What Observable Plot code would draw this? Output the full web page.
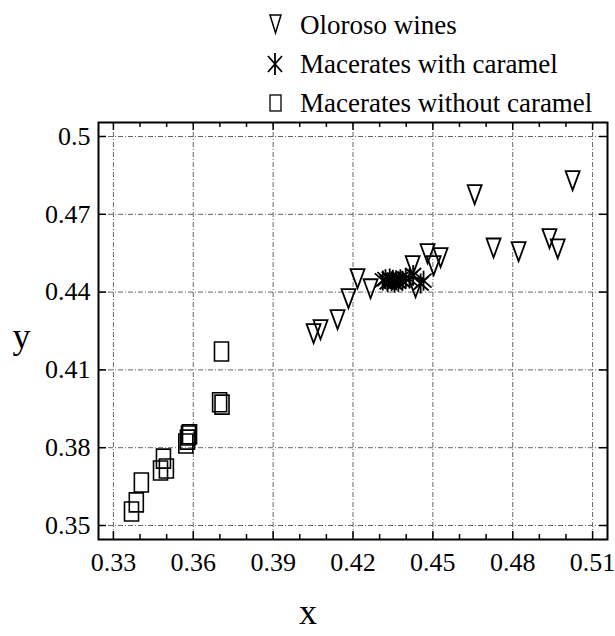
<!DOCTYPE html>
<html>
<head>
<meta charset="utf-8">
<script src="https://cdn.jsdelivr.net/npm/d3@7"></script>
<script src="https://cdn.jsdelivr.net/npm/@observablehq/plot@0.6"></script>
<style>
  body { margin: 0; background: #fff; }
  #wrap { position: relative; width: 615px; height: 636px; font-family: "Liberation Serif", "DejaVu Serif", serif; }
  #legend { position: absolute; left: 0; top: 0; width: 615px; height: 120px; pointer-events: none; }
  .row { position: absolute; left: 262px; height: 30px; display: flex; align-items: center; font-size: 27px; color: #000; white-space: nowrap; }
  .row svg { width: 28px; height: 28px; margin-right: 10px; overflow: visible; }
</style>
</head>
<body>
<div id="wrap">
  <div id="chart"></div>
  <div id="legend"></div>
</div>
<script>
// ---- data ----
const seriesNames = ["Oloroso wines", "Macerates with caramel", "Macerates without caramel"];

const olorosoX = [0.4052, 0.4078, 0.4142, 0.4183, 0.4217, 0.4266, 0.4424, 0.4435, 0.4480, 0.4503, 0.4529, 0.4657, 0.4728, 0.4822, 0.4938, 0.4969, 0.5025];
const olorosoY = [0.4240, 0.4255, 0.4294, 0.4375, 0.4452, 0.4413, 0.4502, 0.4417, 0.4548, 0.4502, 0.4533, 0.4776, 0.4570, 0.4556, 0.4606, 0.4567, 0.4830];

const caramelX = [0.4312, 0.4322, 0.4330, 0.4338, 0.4345, 0.4350, 0.4356, 0.4362, 0.4370, 0.4378, 0.4386, 0.4398, 0.4412, 0.4426, 0.4454, 0.4465];
const caramelY = [0.4445, 0.4450, 0.4438, 0.4452, 0.4442, 0.4448, 0.4436, 0.4446, 0.4440, 0.4450, 0.4444, 0.4452, 0.4452, 0.4466, 0.4433, 0.4444];

const noCaramelX = [0.3368, 0.3386, 0.3405, 0.3477, 0.3488, 0.3499, 0.3572, 0.3578, 0.3582, 0.3586, 0.3699, 0.3708, 0.3706];
const noCaramelY = [0.3554, 0.3589, 0.3666, 0.3712, 0.3758, 0.3720, 0.3816, 0.3831, 0.3847, 0.3852, 0.3975, 0.3966, 0.4171];

const xTicks = [0.33, 0.36, 0.39, 0.42, 0.45, 0.48, 0.51];
const xMinorTicks = [0.34, 0.35, 0.37, 0.38, 0.40, 0.41, 0.43, 0.44, 0.46, 0.47, 0.49, 0.50];
const yTicks = [0.35, 0.38, 0.41, 0.44, 0.47, 0.5];
const xDomain = [0.3244, 0.5156];
const yDomain = [0.3446, 0.5054];

// ---- layout ----
const W = 615, H = 636;
const mL = 98, mR = 8, mT = 122, mB = 97;
const plotW = W - mL - mR, plotH = H - mT - mB;

// ---- custom symbols ----
const triDown = { draw(ctx) { ctx.moveTo(-7, -9.5); ctx.lineTo(7, -9.5); ctx.lineTo(0, 9.5); ctx.closePath(); } };
const rectSym = { draw(ctx) { ctx.moveTo(-7, -9.5); ctx.lineTo(7, -9.5); ctx.lineTo(7, 9.5); ctx.lineTo(-7, 9.5); ctx.closePath(); } };
const asterisk = { draw(ctx) {
  ctx.moveTo(0, -10); ctx.lineTo(0, 10);
  ctx.moveTo(-8, -7); ctx.lineTo(8, 7);
  ctx.moveTo(-8, 7); ctx.lineTo(8, -7);
} };

const zip = (xs, ys) => xs.map((x, i) => ({x, y: ys[i]}));
const oloroso = zip(olorosoX, olorosoY);
const caramel = zip(caramelX, caramelY);
const noCaramel = zip(noCaramelX, noCaramelY);

const fmt = d => String(+d.toFixed(2));
const gridStyle = {stroke: "#666", strokeOpacity: 1, strokeWidth: 1, strokeDasharray: "5,2,1,2"};

const chart = Plot.plot({
  width: W, height: H,
  marginLeft: mL, marginRight: mR, marginTop: mT, marginBottom: mB,
  x: {domain: xDomain, label: null},
  y: {domain: yDomain, label: null},
  style: {fontFamily: "'Liberation Serif', 'DejaVu Serif', serif", fontSize: "26px", color: "#000", background: "#fff", overflow: "visible"},
  marks: [
    Plot.gridX(xTicks, gridStyle),
    Plot.gridY(yTicks, gridStyle),
    Plot.axisX(xTicks, {tickSize: 0, tickPadding: 13, tickFormat: fmt, fontSize: 26}),
    Plot.axisY(yTicks, {tickSize: 0, tickPadding: 8, tickFormat: fmt, fontSize: 26}),
    // inward ticks
    Plot.tickX(xTicks, {x: d => d, insetTop: plotH - 8, stroke: "#000", strokeWidth: 1.5}),
    Plot.tickX(xTicks, {x: d => d, insetBottom: plotH - 8, stroke: "#000", strokeWidth: 1.5}),
    Plot.tickX(xMinorTicks, {x: d => d, insetTop: plotH - 5, stroke: "#000", strokeWidth: 1.5}),
    Plot.tickX(xMinorTicks, {x: d => d, insetBottom: plotH - 5, stroke: "#000", strokeWidth: 1.5}),
    Plot.tickY(yTicks, {y: d => d, insetRight: plotW - 8, stroke: "#000", strokeWidth: 1.5}),
    Plot.tickY(yTicks, {y: d => d, insetLeft: plotW - 8, stroke: "#000", strokeWidth: 1.5}),
    Plot.frame({stroke: "#000", strokeWidth: 2}),
    // data
    Plot.dot(noCaramel, {x: "x", y: "y", symbol: rectSym, r: 7, fill: "none", stroke: "#000", strokeWidth: 1.6}),
    Plot.dot(oloroso, {x: "x", y: "y", symbol: triDown, r: 7, fill: "none", stroke: "#000", strokeWidth: 1.8}),
    Plot.dot(caramel, {x: "x", y: "y", symbol: asterisk, r: 7, fill: "none", stroke: "#000", strokeWidth: 1.8}),
    // axis titles
    Plot.text(["x"], {frameAnchor: "bottom", dx: -45, dy: 84, fontSize: 36, fill: "#000"}),
    Plot.text(["y"], {frameAnchor: "left", textAnchor: "middle", dx: -77, dy: 5, fontSize: 36, fill: "#000"})
  ]
});
document.getElementById("chart").appendChild(chart);

// ---- legend (HTML with inline svg symbols) ----
const legendSymbols = [
  '<path d="M8,4 L19,4 L13.5,22 Z" fill="none" stroke="#000" stroke-width="1.5"/>',
  '<path d="M13,3 L13,25 M6,6 L20,22 M6,22 L20,6" fill="none" stroke="#000" stroke-width="1.8"/>',
  '<rect x="8" y="6" width="11" height="16" fill="none" stroke="#000" stroke-width="1.3"/>'
];
const rowTops = [10, 49, 88];
const legend = document.getElementById("legend");
seriesNames.forEach((name, i) => {
  const row = document.createElement("div");
  row.className = "row";
  row.style.top = rowTops[i] + "px";
  row.innerHTML = `<svg viewBox="0 0 28 28">${legendSymbols[i]}</svg><span>${name}</span>`;
  legend.appendChild(row);
});
</script>
</body>
</html>
